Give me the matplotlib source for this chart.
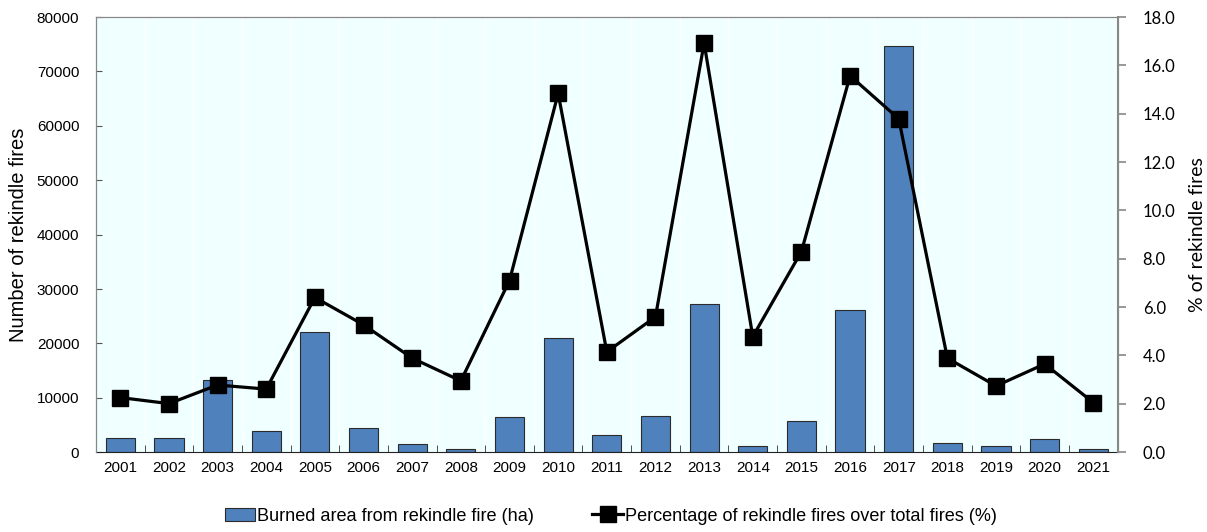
import matplotlib.pyplot as plt
import numpy as np

years = ['2001', '2002', '2003', '2004', '2005', '2006', '2007', '2008', '2009', '2010', '2011',
         '2012', '2013', '2014', '2015', '2016', '2017', '2018', '2019', '2020', '2021']
burned_area = [2700, 2600, 13250, 3900, 22100, 4400, 1450, 550, 6550, 21000, 3200,
               6600, 27200, 1100, 5650, 26200, 74600, 1700, 1150, 2400, 550]
pct_rekindle = [2.26, 2.01, 2.78, 2.61, 6.40, 5.27, 3.89, 2.95, 7.10, 14.84, 4.15,
                5.60, 16.92, 4.78, 8.30, 15.57, 13.79, 3.89, 2.74, 3.65, 2.05]

fig = plt.figure(figsize=(12.07, 5.32), dpi=100)
ax = fig.add_axes([0.0795, 0.150, 0.8465, 0.818])
ax.set_facecolor('#F0FFFF')
x = np.arange(len(years))

bars = ax.bar(x, burned_area, width=0.6, color='#4F81BD', edgecolor='#2b2b2b', linewidth=0.8,
              label='Burned area from rekindle fire (ha)', zorder=2)
ax.set_xlim(-0.5, len(years) - 0.5)
ax.set_ylim(0, 80000)
ax.set_yticks(range(0, 80001, 10000))
ax.set_xticks(x)
ax.set_xticklabels(years, family='Liberation Sans', fontsize=11)
ax.set_xticks(np.arange(-0.5, len(years), 1), minor=True)
ax.tick_params(axis='x', which='major', length=0, pad=6)
ax.tick_params(axis='x', which='minor', direction='in', length=5, color='#333333')
ax.tick_params(axis='y', direction='in', length=4, color='#555555', labelsize=11, pad=12)
for lab in ax.get_yticklabels():
    lab.set_family('Liberation Sans')
for xb in np.arange(0.5, len(years) - 1, 1):
    ax.axvline(xb, color='white', linewidth=1, zorder=1)
ax.set_ylabel('Number of rekindle fires', family='Liberation Sans', fontsize=14.5, labelpad=6)
for s in ['top', 'right', 'left']:
    ax.spines[s].set_color('#777777')
ax.spines['bottom'].set_color('#222222')

ax2 = ax.twinx()
line, = ax2.plot(x, pct_rekindle, color='black', linewidth=2.3, marker='s', markersize=11,
                 label='Percentage of rekindle fires over total fires (%)', zorder=3)
ax2.set_ylim(0, 18)
ax2.set_yticks(np.arange(0, 18.1, 2))
ax2.set_yticklabels([f'{v:.1f}' for v in np.arange(0, 18.1, 2)], family='Lato', fontsize=12)
ax2.tick_params(axis='y', direction='out', length=6, color='#888888', width=1.2, pad=12)
ax2.set_ylabel('% of rekindle fires', family='Lato', fontsize=14, labelpad=10)
for s in ['top', 'right', 'left']:
    ax2.spines[s].set_color('#888888')
ax2.spines['right'].set_linewidth(1.5)
ax2.spines['bottom'].set_visible(False)

fig.legend([bars, line], [bars.get_label(), line.get_label()], loc='center',
           bbox_to_anchor=(0.506, 0.03), ncol=2, frameon=False,
           prop={'family': 'Liberation Sans', 'size': 13.1}, handlelength=1.7,
           handletextpad=0.1, columnspacing=3.2)

fig.savefig('out.png', dpi=100)
